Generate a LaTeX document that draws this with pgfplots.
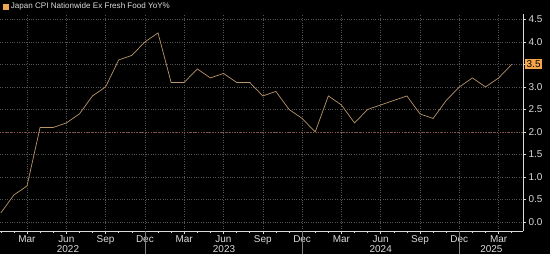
\documentclass[border=0pt]{standalone}
\usepackage{pgfplots}
\pgfplotsset{compat=1.18}
\usepackage{fontspec}
\setmainfont{Liberation Sans}
\definecolor{linec}{HTML}{B8956A}
\definecolor{legsq}{HTML}{F0A552}
\definecolor{gridc}{HTML}{555555}
\definecolor{tgt}{HTML}{A0583A}
\definecolor{txt}{HTML}{DADADA}
\definecolor{tag}{HTML}{F5A54A}
\begin{document}
\begin{tikzpicture}
\fill[black,use as bounding box] (0bp,0bp) rectangle (550bp,254bp);
\begin{axis}[
  at={(0bp,23bp)}, anchor=south west,
  scale only axis, width=523bp, height=217bp,
  xmin=-0.06, xmax=39.86, ymin=-0.2, ymax=4.62,
  clip mode=individual,
  axis x line*=bottom, axis y line*=right,
  axis line style={txt, line width=0.6bp},
  every tick/.style={txt, line width=0.5bp},
  tick align=outside,
  major tick length=3bp, minor tick length=2bp,
  xtick={2,5,8,11,14,17,20,23,26,29,32,35,38},
  xticklabels={Mar,Jun,Sep,Dec,Mar,Jun,Sep,Dec,Mar,Jun,Sep,Dec,Mar},
  minor xtick={0,1,...,39},
  ytick={0,0.5,1,1.5,2,2.5,3,4,4.5},
  /pgf/number format/assume math mode=true,
  yticklabel style={/pgf/number format/fixed, /pgf/number format/fixed zerofill, /pgf/number format/precision=1},
  tick label style={text=txt, font=\fontsize{10}{11}\selectfont},
  xticklabel style={yshift=2bp},
  yticklabel style={xshift=-1bp},
  xmajorgrids, ymajorgrids,
  grid style={gridc, dotted, line width=0.5bp},
  extra x ticks={11,23,35},
  extra x tick labels={},
  extra x tick style={grid=none, major tick length=23bp, tick align=outside, every tick/.style={gray, line width=0.6bp}},
  extra y ticks={3.5},
  extra y tick labels={3.5},
  extra y tick style={yticklabel style={fill=tag, text=black, inner sep=1.5bp}},
  legend style={at={(0,1)}, anchor=south west, draw=none, fill=none, text=txt,
    font=\fontsize{8.1}{9}\selectfont, inner sep=0pt, xshift=3bp, yshift=1.5bp},
  legend image code/.code={\fill[legsq] (0bp,-2.5bp) rectangle (5bp,2.5bp);},
]
\addplot[tgt, dotted, line width=0.8bp, forget plot] coordinates {(-0.06,2) (39.86,2)};
\addplot[linec, line width=0.7bp] coordinates {
(0,0.2) (1,0.6) (2,0.8) (3,2.1) (4,2.1) (5,2.2) (6,2.4) (7,2.8) (8,3.0) (9,3.6) (10,3.7) (11,4.0)
(12,4.2) (13,3.1) (14,3.1) (15,3.4) (16,3.2) (17,3.3) (18,3.1) (19,3.1) (20,2.8) (21,2.9) (22,2.5) (23,2.3)
(24,2.0) (25,2.8) (26,2.6) (27,2.2) (28,2.5) (29,2.6) (30,2.7) (31,2.8) (32,2.4) (33,2.3) (34,2.7) (35,3.0)
(36,3.2) (37,3.0) (38,3.2) (39,3.5)
};
\addlegendentry{Japan CPI Nationwide Ex Fresh Food YoY\%}
\coordinate (y22) at (axis cs:5.13,-0.2);
\coordinate (y23) at (axis cs:17.04,-0.2);
\coordinate (y24) at (axis cs:29.0,-0.2);
\coordinate (y25) at (axis cs:37.45,-0.2);
\end{axis}
\foreach \c/\t in {y22/2022,y23/2023,y24/2024,y25/2025}
  \node[text=txt, font=\fontsize{10}{11}\selectfont, yshift=-18bp] at (\c) {\t};
\end{tikzpicture}
\end{document}
